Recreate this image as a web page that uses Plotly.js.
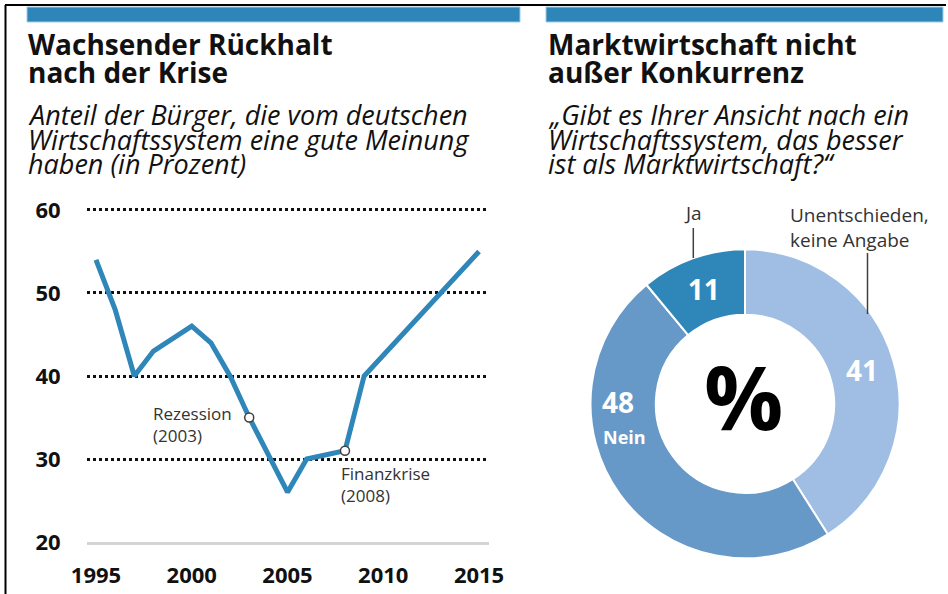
<!DOCTYPE html>
<html>
<head>
<meta charset="utf-8">
<script src="https://cdn.plot.ly/plotly-3.0.1.min.js"></script>
<style>
html,body{margin:0;padding:0;background:#fff;}
#chart{width:948px;height:594px;}
</style>
</head>
<body>
<div id="chart"></div>
<script>
// ---- Data: line chart ----
const years = [1995, 1996, 1997, 1998, 2000, 2001, 2002, 2003, 2005, 2006, 2008, 2009, 2015];
const goodOpinion = [54, 48, 40, 43, 46, 44, 40, 35, 26, 30, 31, 40, 55];
const markedYears = [2003, 2008];
const markedLabels = ["Rezession<br>(2003)", "Finanzkrise<br>(2008)"];
const xTicks = [1995, 2000, 2005, 2010, 2015];
const yTicks = [20, 30, 40, 50, 60];

// ---- Data: donut ----
const pieLabels = ["Unentschieden, keine Angabe", "Nein", "Ja"];
const pieValues = [41, 48, 11];
const pieColors = ["#a0bee3", "#6699c7", "#2e86b9"];

// ---- helpers (pixel -> paper) ----
const W = 948, H = 594;
const px = x => x / W;
const py = y => 1 - y / H;

const FONT = "Open Sans, Noto Sans, sans-serif";

const markedValues = markedYears.map(y => goodOpinion[years.indexOf(y)]);

const traces = [
  {
    type: "scatter", mode: "lines",
    x: years, y: goodOpinion,
    line: {color: "#2e86b9", width: 5},
    hoverinfo: "skip", showlegend: false,
    xaxis: "x", yaxis: "y"
  },
  {
    type: "scatter", mode: "markers",
    x: markedYears, y: markedValues,
    marker: {color: "#ffffff", size: 9, line: {color: "#404040", width: 1.5}},
    hoverinfo: "skip", showlegend: false,
    xaxis: "x", yaxis: "y"
  },
  {
    type: "pie",
    labels: pieLabels, values: pieValues,
    sort: false, direction: "clockwise", rotation: 0,
    hole: 0.577,
    marker: {colors: pieColors, line: {color: "#ffffff", width: 2}},
    text: pieValues.map((v, i) => i === 1 ? "" : String(v)),
    textinfo: "text",
    textposition: "inside",
    insidetextorientation: "horizontal",
    insidetextfont: {family: FONT, size: 28, color: "#ffffff", weight: "bold"},
    hoverinfo: "skip",
    showlegend: false,
    domain: {x: [px(590.5), px(899.5)], y: [py(558.3), py(249.3)]}
  }
];

const annotations = [];
function addText(text, x, y, size, opts) {
  annotations.push(Object.assign({
    xref: "paper", yref: "paper", x: px(x), y: py(y),
    text: text, showarrow: false, xanchor: "left", yanchor: "middle",
    align: "left",
    font: {family: FONT, size: size, color: "#111111"}
  }, opts || {}));
}
// left titles
addText("<b>Wachsender Rückhalt</b>", 26, 44, 28);
addText("<b>nach der Krise</b>", 26, 72, 28);
addText("<i>Anteil der Bürger, die vom deutschen</i>", 26, 114, 27);
addText("<i>Wirtschaftssystem eine gute Meinung</i>", 26, 139, 27);
addText("<i>haben (in Prozent)</i>", 26, 163.5, 27);
// right titles
addText("<b>Marktwirtschaft nicht</b>", 546, 44, 28);
addText("<b>außer Konkurrenz</b>", 546, 72, 28);
addText("<i>„Gibt es Ihrer Ansicht nach ein</i>", 546, 114, 27);
addText("<i>Wirtschaftssystem, das besser</i>", 546, 139, 27);
addText("<i>ist als Marktwirtschaft?“</i>", 546, 163.5, 27);

// line chart annotations
addText(markedLabels[0], 151, 424, 17, {font: {family: FONT, size: 17, color: "#333333"}});
addText(markedLabels[1], 339, 484.5, 17, {font: {family: FONT, size: 17, color: "#333333"}});

// donut labels
addText(pieLabels[2], 693, 213, 19, {xanchor: "center", font: {family: FONT, size: 19, color: "#333333"}});
addText(pieLabels[0].replace(" keine", "<br>keine"), 788, 227, 19, {font: {family: FONT, size: 19, color: "#333333"}});
addText("<b>" + pieValues[1] + "</b>", 600, 402, 28, {font: {family: FONT, size: 28, color: "#ffffff"}});
addText("<b>" + pieLabels[1] + "</b>", 601, 437, 18, {font: {family: FONT, size: 18, color: "#ffffff"}});
addText("<b>%</b>", 743, 396, 88, {xanchor: "center", font: {family: FONT, size: 88, color: "#000000"}});

const shapes = [
  // frame
  {type: "line", xref: "paper", yref: "paper", x0: px(5), x1: px(946), y0: py(5), y1: py(5), line: {color: "#000", width: 2}},
  {type: "line", xref: "paper", yref: "paper", x0: px(5.5), x1: px(5.5), y0: py(5), y1: py(594), line: {color: "#000", width: 2}},
  // blue header bars
  {type: "rect", xref: "paper", yref: "paper", x0: px(27), x1: px(520), y0: py(22), y1: py(7), fillcolor: "#2e85b8", line: {color: "#9fcbe8", width: 1}},
  {type: "rect", xref: "paper", yref: "paper", x0: px(546), x1: px(943), y0: py(22), y1: py(7), fillcolor: "#2e85b8", line: {color: "#9fcbe8", width: 1}},
  // donut leader lines
  {type: "line", xref: "paper", yref: "paper", x0: px(693.3), x1: px(693.3), y0: py(228), y1: py(258), line: {color: "#404040", width: 1.5}},
  {type: "line", xref: "paper", yref: "paper", x0: px(867.5), x1: px(867.5), y0: py(253), y1: py(314), line: {color: "#404040", width: 1.5}}
];

const layout = {
  width: W, height: H,
  margin: {l: 0, r: 0, t: 0, b: 0},
  paper_bgcolor: "#ffffff", plot_bgcolor: "rgba(0,0,0,0)",
  showlegend: false,
  xaxis: {
    domain: [px(87), px(489)],
    range: [1994.53, 2015.52],
    tickvals: xTicks, ticktext: xTicks.map(String),
    showgrid: false, zeroline: false,
    showline: true, linecolor: "#d4d4d4", linewidth: 3,
    ticks: "outside", ticklen: 12, tickcolor: "rgba(0,0,0,0)",
    tickfont: {family: FONT, size: 22, color: "#111111", weight: "bold"},
    fixedrange: true
  },
  yaxis: {
    domain: [py(542), py(207.5)],
    range: [20, 60.3],
    tickvals: yTicks, ticktext: yTicks.map(String),
    showgrid: true, gridcolor: "#111111", gridwidth: 3, griddash: "dot",
    zeroline: false, showline: false,
    ticks: "outside", ticklen: 21, tickcolor: "rgba(0,0,0,0)",
    tickfont: {family: FONT, size: 22, color: "#111111", weight: "bold"},
    fixedrange: true
  },
  annotations: annotations,
  shapes: shapes
};

Plotly.newPlot("chart", traces, layout, {displayModeBar: false, staticPlot: true});
</script>
</body>
</html>
